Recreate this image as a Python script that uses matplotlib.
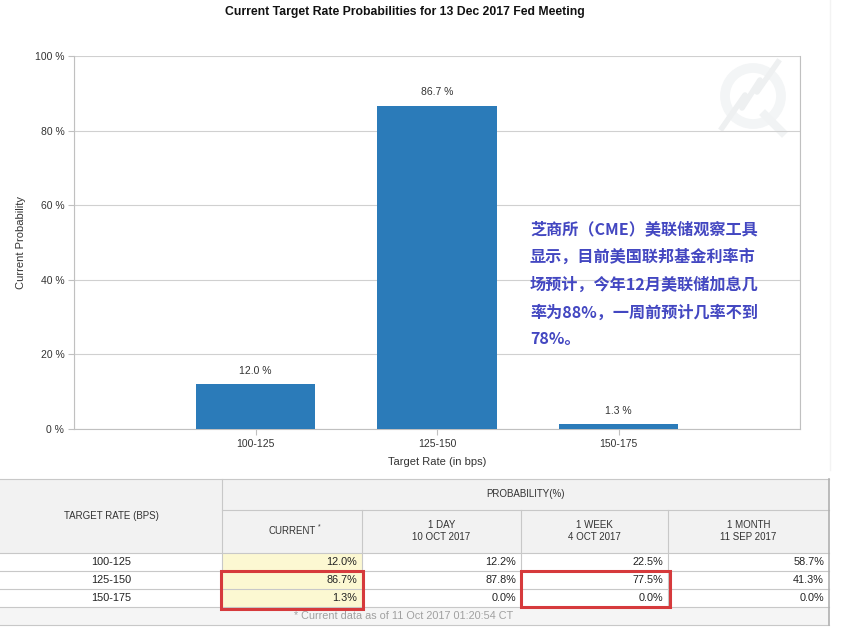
import numpy as np
import matplotlib
matplotlib.use("Agg")
import matplotlib.pyplot as plt
from matplotlib.patches import Rectangle, Circle

plt.rcParams['font.family'] = ['Liberation Sans', 'DejaVu Sans']

# Données
categories = ['100-125', '125-150', '150-175']
current = [12.0, 86.7, 1.3]
one_day = [12.2, 87.8, 0.0]
one_week = [22.5, 77.5, 0.0]
one_month = [58.7, 41.3, 0.0]
col_headers = ['CURRENT', '1 DAY\n10 OCT 2017', '1 WEEK\n4 OCT 2017', '1 MONTH\n11 SEP 2017']
yticks = [0, 20, 40, 60, 80, 100]
note_cn = ("芝商所（CME）美联储观察工具\n显示，目前美国联邦基金利率市\n"
           "场预计，今年12月美联储加息几\n率为88%，一周前预计几率不到\n78%。")
footnote = '* Current data as of 11 Oct 2017 01:20:54 CT'

W, H = 841, 627
fig = plt.figure(figsize=(W / 100, H / 100), dpi=100)

# axe de fond en pixels (tableau + filigrane)
bg = fig.add_axes([0, 0, 1, 1])
bg.set_xlim(0, W)
bg.set_ylim(H, 0)
bg.axis('off')

# filigrane
bg.add_patch(Circle((753, 96), 28, fill=False, lw=7, ec='#f3f5f6', zorder=1))
bg.plot([722, 745, 742, 760, 757, 778], [128, 95, 108, 80, 92, 62], color='#eef0f1', lw=4, zorder=1)
bg.plot([765, 782], [115, 132], color='#f1f3f4', lw=6, zorder=1)
bg.plot([830, 830], [0, 470], color='#f3f3f3', lw=1, zorder=1)

# Graphique
ax = fig.add_axes([74 / W, 1 - 429 / H, (800 - 74) / W, (429 - 56) / H])
ax.set_facecolor('none')
x = np.arange(1, len(categories) + 1)
bars = ax.bar(x, current, width=0.66, color='#2b7bb9', zorder=3)
for xi, v in zip(x, current):
    ax.text(xi, v + 2.2, f'{v:.1f} %', ha='center', va='bottom', fontsize=7.5, color='#333333')
ax.set_xlim(0, 4)
ax.set_ylim(0, 100)
ax.set_xticks(x)
ax.set_xticklabels(categories, fontsize=7.5, color='#333333')
ax.set_xticks(np.arange(0, 5), minor=True)
ax.set_yticks(yticks)
ax.set_yticklabels([f'{t} %' for t in yticks], fontsize=7.5, color='#333333')
ax.grid(True, which='minor', axis='x', color='#d0d0d0', lw=0.8)
ax.grid(True, which='major', axis='y', color='#d0d0d0', lw=0.8)
ax.tick_params(which='minor', length=0)
ax.tick_params(axis='both', length=4, color='#c0c0c0', width=0.8, pad=3)
ax.spines['top'].set_visible(False)
for s in ['left', 'bottom', 'right']:
    ax.spines[s].set_color('#c0c0c0')
    ax.spines[s].set_linewidth(0.8)
ax.set_xlabel('Target Rate (in bps)', fontsize=8, color='#333333', labelpad=6)
ax.set_ylabel('Current Probability', fontsize=8, color='#333333', labelpad=6)
fig.text(405 / W, 1 - 12 / H, 'Current Target Rate Probabilities for 13 Dec 2017 Fed Meeting',
         ha='center', va='center', fontsize=8.8, fontweight='bold', color='#111111')

ax.text(530 / W, 1 - 221 / H, note_cn, transform=fig.transFigure, ha='left', va='top',
        fontsize=11.6, fontweight='bold', color='#4347c1', linespacing=1.85,
        family=['Noto Sans CJK SC', 'DejaVu Sans'])

# Tableau
cols = [0, 222, 362, 521, 668, 829]
y_top, y_h1, y_h2 = 479, 510, 553
row_h = 18
grid_c = '#c8c8c8'
bg.add_patch(Rectangle((0, y_top), cols[-1], y_h2 - y_top, fc='#f2f2f2', ec='none', zorder=2))
n = len(categories)
y_end = y_h2 + n * row_h
bg.add_patch(Rectangle((cols[1], y_h2), cols[2] - cols[1], n * row_h, fc='#fcf8d2', ec='none', zorder=2))
bg.add_patch(Rectangle((0, y_end), cols[-1], row_h, fc='#f5f5f5', ec='none', zorder=2))
# lignes
for yy in [y_top, y_h2] + [y_h2 + (i + 1) * row_h for i in range(n)] + [y_end + row_h]:
    bg.plot([0, cols[-1]], [yy, yy], color=grid_c, lw=0.8, zorder=3)
bg.plot([cols[1], cols[-1]], [y_h1, y_h1], color=grid_c, lw=0.8, zorder=3)
bg.plot([cols[1], cols[1]], [y_top, y_end], color=grid_c, lw=0.8, zorder=3)
for cx in cols[2:5]:
    bg.plot([cx, cx], [y_h1, y_end], color=grid_c, lw=0.8, zorder=3)
bg.plot([cols[-1], cols[-1]], [y_top, y_end + row_h], color='#b0b0b0', lw=1.2, zorder=3)

hc = '#333333'
bg.text(cols[0] + (cols[1] - cols[0]) / 2, 516, 'TARGET RATE (BPS)', ha='center', va='center',
        fontsize=7, color=hc, zorder=4)
bg.text((cols[1] + cols[-1]) / 2, 494, 'PROBABILITY(%)', ha='center', va='center',
        fontsize=7, color=hc, zorder=4)
for i, h in enumerate(col_headers):
    cx = (cols[i + 1] + cols[i + 2]) / 2
    if i == 0:
        bg.text(cx, 531, h, ha='center', va='center', fontsize=7, color=hc, zorder=4)
        bg.text(cx + 27, 527, '*', ha='center', va='center', fontsize=5, color=hc, zorder=4)
    else:
        bg.text(cx, 531, h, ha='center', va='center', fontsize=7, color=hc,
                linespacing=1.2, zorder=4)

series = [current, one_day, one_week, one_month]
for r, cat in enumerate(categories):
    yc = y_h2 + r * row_h + row_h / 2
    bg.text((cols[0] + cols[1]) / 2, yc, cat, ha='center', va='center', fontsize=7.8, color='#222222', zorder=4)
    for j, s in enumerate(series):
        bg.text(cols[j + 2] - 5, yc, f'{s[r]:.1f}%', ha='right', va='center', fontsize=7.8,
                color='#222222', zorder=4)
bg.text(404, y_end + row_h / 2, footnote, ha='center', va='center', fontsize=7.8, color='#a0a0a0', zorder=4)

# encadrés rouges
red = '#d63a3c'
bg.add_patch(Rectangle((cols[1] - 1, y_h2 + row_h), cols[2] - cols[1] + 2, 2 * row_h + 2,
                       fill=False, ec=red, lw=2.2, zorder=5))
bg.add_patch(Rectangle((cols[3], y_h2 + row_h), cols[4] - cols[3] + 2, 2 * row_h,
                       fill=False, ec=red, lw=2.2, zorder=5))

fig.savefig('out.png', dpi=100)
